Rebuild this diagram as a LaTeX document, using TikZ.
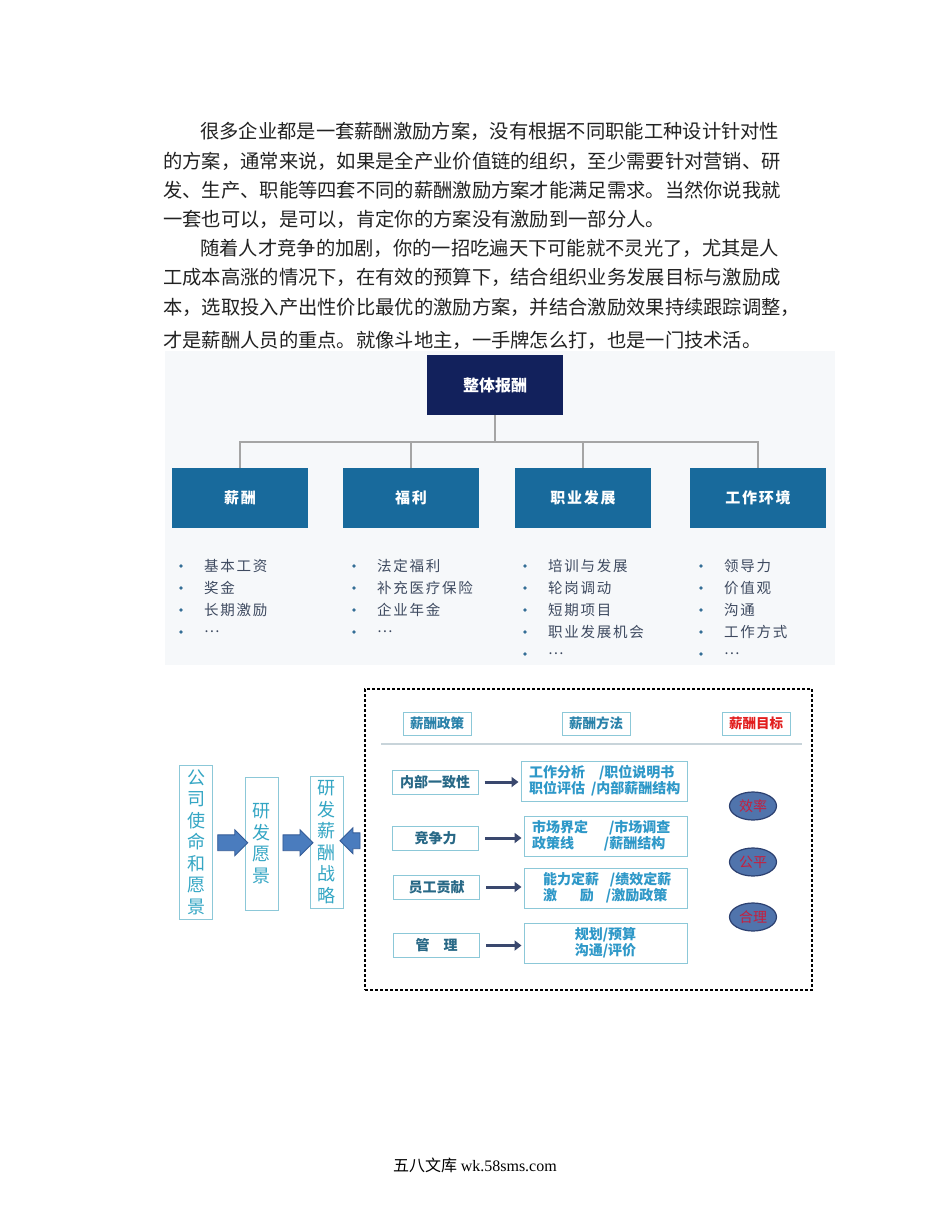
\documentclass[tikz,border=0pt]{standalone}
\usepackage{fontspec}
\setmainfont{Noto Sans CJK SC}
\newfontfamily\spacedcjk[LetterSpace=12]{Noto Sans CJK SC}
\newfontfamily\latinserif{Liberation Serif}
\usetikzlibrary{positioning,arrows.meta,shapes.geometric,shapes.arrows,calc}
\definecolor{BodyInk}{RGB}{34,34,34}
\definecolor{PanelGrey}{RGB}{246,248,250}
\definecolor{NavyTop}{RGB}{18,33,92}
\definecolor{TealBox}{RGB}{24,106,156}
\definecolor{TreeGrey}{RGB}{165,165,165}
\definecolor{ListInk}{RGB}{62,74,96}
\definecolor{BulletTeal}{RGB}{52,110,150}
\definecolor{FrameTeal}{RGB}{140,200,216}
\definecolor{VisionTeal}{RGB}{52,166,196}
\definecolor{BlockBlue}{RGB}{74,124,190}
\definecolor{BlockEdge}{RGB}{50,90,150}
\definecolor{HeadTeal}{RGB}{42,130,170}
\definecolor{GoalRed}{RGB}{226,30,30}
\definecolor{RowInk}{RGB}{40,104,134}
\definecolor{MethodInk}{RGB}{46,152,200}
\definecolor{RuleGrey}{RGB}{200,212,218}
\definecolor{ArrowNavy}{RGB}{58,72,110}
\definecolor{OvalFill}{RGB}{80,116,172}
\definecolor{OvalEdge}{RGB}{44,64,112}
\definecolor{OvalInk}{RGB}{200,30,60}
\newcommand{\setsize}[2]{\fontsize{#1}{#2}\selectfont}
\tikzset{
  bodyline/.style={anchor=west,inner sep=0pt,text=BodyInk,font=\setsize{19.3}{23}},
  topbox/.style={fill=NavyTop,text=white,minimum width=136pt,minimum height=60pt,font=\setsize{16}{18}\bfseries},
  catbox/.style={fill=TealBox,text=white,minimum width=136pt,minimum height=60pt,font=\spacedcjk\setsize{15}{18}\bfseries},
  treeline/.style={draw=TreeGrey,line width=2.6pt},
  listitem/.style={anchor=west,inner sep=0pt,text=ListInk,font=\spacedcjk\setsize{14.5}{16}},
  visionbox/.style={draw=FrameTeal,line width=1pt,text=VisionTeal,minimum width=33pt,align=center,inner sep=0pt,font=\setsize{18}{21.5}},
  blockarrow/.style={single arrow,fill=BlockBlue,draw=BlockEdge,line width=0.8pt,inner xsep=0pt,inner ysep=7.5pt,single arrow head extend=5pt,minimum height=30pt},
  policyframe/.style={draw,dash pattern=on 3pt off 2pt,line width=1.1pt,minimum width=447pt,minimum height=301pt},
  headbox/.style={draw=FrameTeal,line width=1pt,minimum width=68pt,minimum height=23pt,inner sep=0pt,font=\setsize{13.5}{15}\bfseries},
  rowbox/.style={draw=FrameTeal,line width=1pt,minimum width=86pt,minimum height=24pt,inner sep=0pt,text=RowInk,font=\setsize{14}{16}\bfseries},
  methodbox/.style={draw=FrameTeal,line width=1pt,minimum height=40pt,inner xsep=8pt,inner ysep=0pt,text=MethodInk,align=left,font=\setsize{14}{16}\bfseries},
  rowarrow/.style={draw=ArrowNavy,line width=3pt,-{Triangle[length=7pt,width=10pt]},shorten <=6pt,shorten >=2pt},
  goaloval/.style={ellipse,fill=OvalFill,draw=OvalEdge,line width=1.2pt,minimum width=47pt,minimum height=28pt,inner sep=0pt,text=OvalInk,font=\setsize{14}{16}}
}
\begin{document}
\begin{tikzpicture}[x=1pt,y=-1pt]
  \fill[white] (0,0) rectangle (950,1230);
  \useasboundingbox (0,0) rectangle (950,1230);

  \foreach \x/\y/\t [count=\i] in {
      200/131/{很多企业都是一套薪酬激励方案，没有根据不同职能工种设计针对性},
      163/161/{的方案，通常来说，如果是全产业价值链的组织，至少需要针对营销、研},
      163/190/{发、生产、职能等四套不同的薪酬激励方案才能满足需求。当然你说我就},
      163/219/{一套也可以，是可以，肯定你的方案没有激励到一部分人。},
      200/248/{随着人才竞争的加剧，你的一招吃遍天下可能就不灵光了，尤其是人},
      163/277/{工成本高涨的情况下，在有效的预算下，结合组织业务发展目标与激励成},
      163/307/{本，选取投入产出性价比最优的激励方案，并结合激励效果持续跟踪调整，},
      163/340/{才是薪酬人员的重点。就像斗地主，一手牌怎么打，也是一门技术活。}}
    \node[bodyline] (line-\i) at (\x,\y) {\t};

  % total reward tree
  \fill[PanelGrey] (165,351) rectangle (835,665);
  \node[topbox] (whole) at (495,385) {整体报酬};
  \node[catbox] (pay) at (240,498) {薪酬};
  \node[catbox] (welfare) at (411,498) {福利};
  \node[catbox] (career) at (583,498) {职业发展};
  \node[catbox] (workenv) at (758,498) {工作环境};
  \coordinate (hub) at (495,442);
  \draw[treeline] (whole) -- (hub);
  \foreach \n in {pay,welfare,career,workenv}
    \draw[treeline] (hub) -| (\n.north);

  \foreach \bx/\items [count=\c] in {
      181/{基本工资,奖金,长期激励,…},
      354/{法定福利,补充医疗保险,企业年金,…},
      525/{培训与发展,轮岗调动,短期项目,职业发展机会,…},
      701/{领导力,价值观,沟通,工作方式,…}}{
    \foreach \t [count=\r] in \items {
      \fill[BulletTeal] (\bx,544+22*\r) circle (1.8);
      \node[listitem] (item-\c-\r) at (\bx+23,544+22*\r) {\t};
    }
  }

  % strategy chain
  \node[visionbox,minimum height=154pt] (mission) at (196,842) {公\\司\\使\\命\\和\\愿\\景};
  \node[visionbox,minimum height=133pt] (rdvision) at (261.5,843.5) {研\\发\\愿\\景};
  \node[visionbox,minimum height=132pt] (strategy) at (326.5,842) {研\\发\\薪\\酬\\战\\略};
  \node[policyframe] (policy) at (588.5,839.5) {};
  \node[blockarrow] (step-a) at ($(mission.east)!0.5!(rdvision.west)$) {};
  \node[blockarrow] (step-b) at ($(rdvision.east)!0.5!(strategy.west)$) {};
  \node[blockarrow,shape border rotate=180,minimum height=20pt] (step-c) at ($(strategy.east)!0.5!(policy.west)$) {};

  \node[headbox,text=HeadTeal] (policyhd) at (437,723.5) {薪酬政策};
  \node[headbox,text=HeadTeal] (methodhd) at (596,723.5) {薪酬方法};
  \node[headbox,text=GoalRed] (goalhd) at (756,723.5) {薪酬目标};
  \draw[RuleGrey,line width=1.5pt] (381,744) -- (802,744);

  \node[rowbox] (consistency) at (435,782) {内部一致性};
  \node[rowbox] (compete) at (435.5,838) {竞争力};
  \node[rowbox] (contrib) at (436.5,887) {员工贡献};
  \node[rowbox] (manage) at (436.5,945.5) {管\hspace{1em}理};

  \node[methodbox,text width=150pt] (jobeval) at (604,781)
    {\makebox[70pt][l]{工作分析}/职位说明书\\\makebox[62pt][l]{职位评估}/内部薪酬结构};
  \node[methodbox,text width=147pt] (market) at (605.5,836)
    {\makebox[77pt][l]{市场界定}/市场调查\\\makebox[72pt][l]{政策线}/薪酬结构};
  \node[methodbox,text width=147pt] (perform) at (605.5,888)
    {\hspace*{11pt}\makebox[67pt][l]{能力定薪}/绩效定薪\\\hspace*{11pt}\makebox[63pt][l]{激\hspace{23pt}励}/激励政策};
  \node[methodbox,text width=147pt,align=center] (budget) at (605.5,943)
    {规划/预算\\沟通/评价};

  \foreach \a/\b in {consistency/jobeval,compete/market,contrib/perform,manage/budget}
    \draw[rowarrow] (\a.east) -- (\a.east -| \b.west);

  \node[goaloval] (efficiency) at (753,806) {效率};
  \node[goaloval] (fairness) at (753,862) {公平};
  \node[goaloval] (reason) at (753,917) {合理};

  \node (footer) at (475,1165) {\setsize{16}{18}五八文库 \latinserif wk.58sms.com};
\end{tikzpicture}
\end{document}
